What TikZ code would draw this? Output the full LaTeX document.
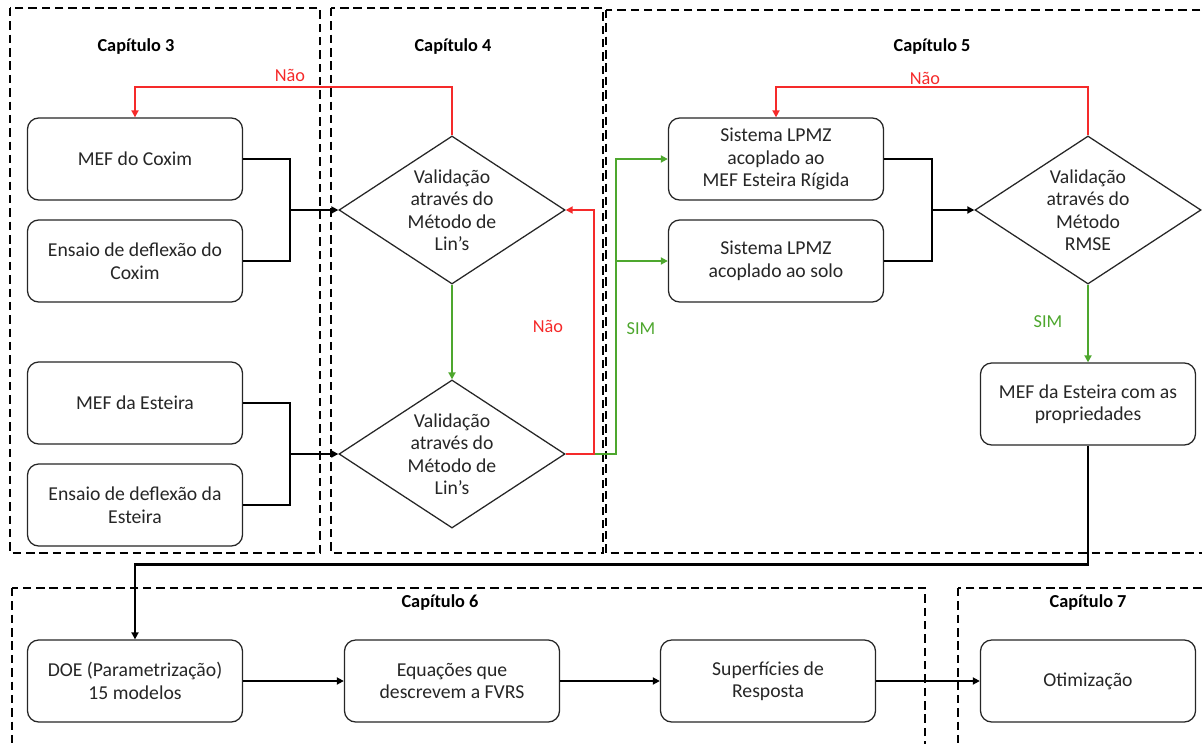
\documentclass[tikz,border=0pt]{standalone}
\usepackage{fontspec}
\setmainfont{Carlito}
\usetikzlibrary{
  positioning,
  shapes.geometric,
  arrows.meta,
  calc,
}
\definecolor{border}{HTML}{262626}
\definecolor{textCol}{HTML}{262626}
\definecolor{noRed}{HTML}{F52A2A}
\definecolor{simGreen}{HTML}{4EA72E}
\newcommand{\boxfont}{\fontsize{14}{16}\selectfont}
\newcommand{\capfont}{\fontsize{13}{16}\selectfont}
\tikzset{
  stepbox/.style={
    rectangle, rounded corners=8pt, draw=border, fill=white,
    minimum width=5.375cm, minimum height=2.05cm, align=center,
    font=\boxfont, text=textCol, inner sep=3pt, line width=0.9pt,
  },
  checkdia/.style={
    diamond, draw=border, fill=white, shape aspect=1.53,
    minimum width=5.65cm, minimum height=3.7cm, align=center,
    font=\boxfont, text=textCol, inner sep=0pt, line width=0.9pt,
  },
  chapframe/.style={draw=black, line width=1.8pt, dash pattern=on 6pt off 3.5pt},
  chaptitle/.style={font=\capfont\bfseries, text=black},
  joinline/.style={black, line width=1.7pt},
  flow/.style={-{Triangle[length=5pt,width=5pt]}, black, line width=1.7pt},
  noflow/.style={-{Triangle[length=5pt,width=5pt]}, noRed, line width=1.3pt},
  simflow/.style={-{Triangle[length=5pt,width=5pt]}, simGreen, line width=1.3pt},
  answer/.style={font=\capfont},
}

\begin{document}
\begin{tikzpicture}[x=0.025cm, y=-0.025cm]

  \useasboundingbox (0,0) rectangle (1202,743);
  \clip (0,0) rectangle (1202,743);

  % Chapter frames
  \draw[chapframe] (10,8) rectangle (320,553);
  \draw[chapframe] (331,8) rectangle (603,553);
  \draw[chapframe] (606,10) rectangle (1215,553);
  \draw[chapframe] (12,588) rectangle (925,760);
  \draw[chapframe] (958,588) rectangle (1215,760);

  \node[chaptitle] (cap3) at (136,47) {Capítulo 3};
  \node[chaptitle] (cap4) at (453,47) {Capítulo 4};
  \node[chaptitle] (cap5) at (932,47) {Capítulo 5};
  \node[chaptitle] (cap6) at (440,603) {Capítulo 6};
  \node[chaptitle] (cap7) at (1088,603) {Capítulo 7};

  % Chapter 3 and 4
  \node[stepbox] (mefcox) at (135,159) {MEF do Coxim};
  \node[stepbox] (enscox) at (135,261) {Ensaio de deflexão do\\Coxim};
  \node[stepbox] (mefest) at (135,403) {MEF da Esteira};
  \node[stepbox] (ensest) at (135,505) {Ensaio de deflexão da\\Esteira};
  \node[checkdia] (lin1) at (452,210) {Validação\\através do\\Método de\\Lin's};
  \node[checkdia] (lin2) at (452,454) {Validação\\através do\\Método de\\Lin's};

  \coordinate (j1) at (290,210);
  \coordinate (j2) at (290,454);
  \draw[joinline] (mefcox.east) -| (j1);
  \draw[joinline] (enscox.east) -| (j1);
  \draw[flow] (j1) -- (lin1.west);
  \draw[joinline] (mefest.east) -| (j2);
  \draw[joinline] (ensest.east) -| (j2);
  \draw[flow] (j2) -- (lin2.west);

  \draw[noflow] (lin1.north) -- ++(0,-48) -| (mefcox.north);
  \node[answer, text=noRed] (nao1) at (290,75) {Não};
  \draw[simflow] (lin1.south) -- (lin2.north);

  % Chapter 5
  \node[stepbox] (sis1) at (776,159) {Sistema LPMZ\\acoplado ao\\MEF Esteira Rígida};
  \node[stepbox] (sis2) at (776,261) {Sistema LPMZ\\acoplado ao solo};
  \node[checkdia] (rmse) at (1088,210) {Validação\\através do\\Método\\RMSE};
  \node[stepbox] (prop) at (1088,404) {MEF da Esteira com as\\propriedades};

  \coordinate (gs) at (616,454);
  \draw[simflow] (lin2.east) -- (gs) |- (sis1.west);
  \draw[simflow] (gs |- sis2.west) -- (sis2.west);
  \draw[noflow] (lin2.east) -- ++(28,0) |- (lin1.east);
  \node[answer, text=noRed] (nao2) at (548,326) {Não};
  \node[answer, text=simGreen] (sim1) at (641,329) {SIM};

  \coordinate (j3) at (932,210);
  \draw[joinline] (sis1.east) -| (j3);
  \draw[joinline] (sis2.east) -| (j3);
  \draw[flow] (j3) -- (rmse.west);

  \draw[noflow] (rmse.north) -- ++(0,-48) -| (sis1.north);
  \node[answer, text=noRed] (nao3) at (925,78) {Não};
  \draw[simflow] (rmse.south) -- (prop.north);
  \node[answer, text=simGreen] (sim2) at (1048,322) {SIM};

  % Chapter 6 and 7
  \node[stepbox] (doe) at (135,681) {DOE (Parametrização)\\15 modelos};
  \node[stepbox] (equ) at (452,681) {Equações que\\descrevem a FVRS};
  \node[stepbox] (sup) at (768,681) {Superfícies de\\Resposta};
  \node[stepbox] (otim) at (1088,681) {Otimização};

  \draw[flow] (prop.south) -- ++(0,119) -| (doe.north);
  \draw[flow] (doe) -- (equ);
  \draw[flow] (equ) -- (sup);
  \draw[flow] (sup) -- (otim);

\end{tikzpicture}
\end{document}
